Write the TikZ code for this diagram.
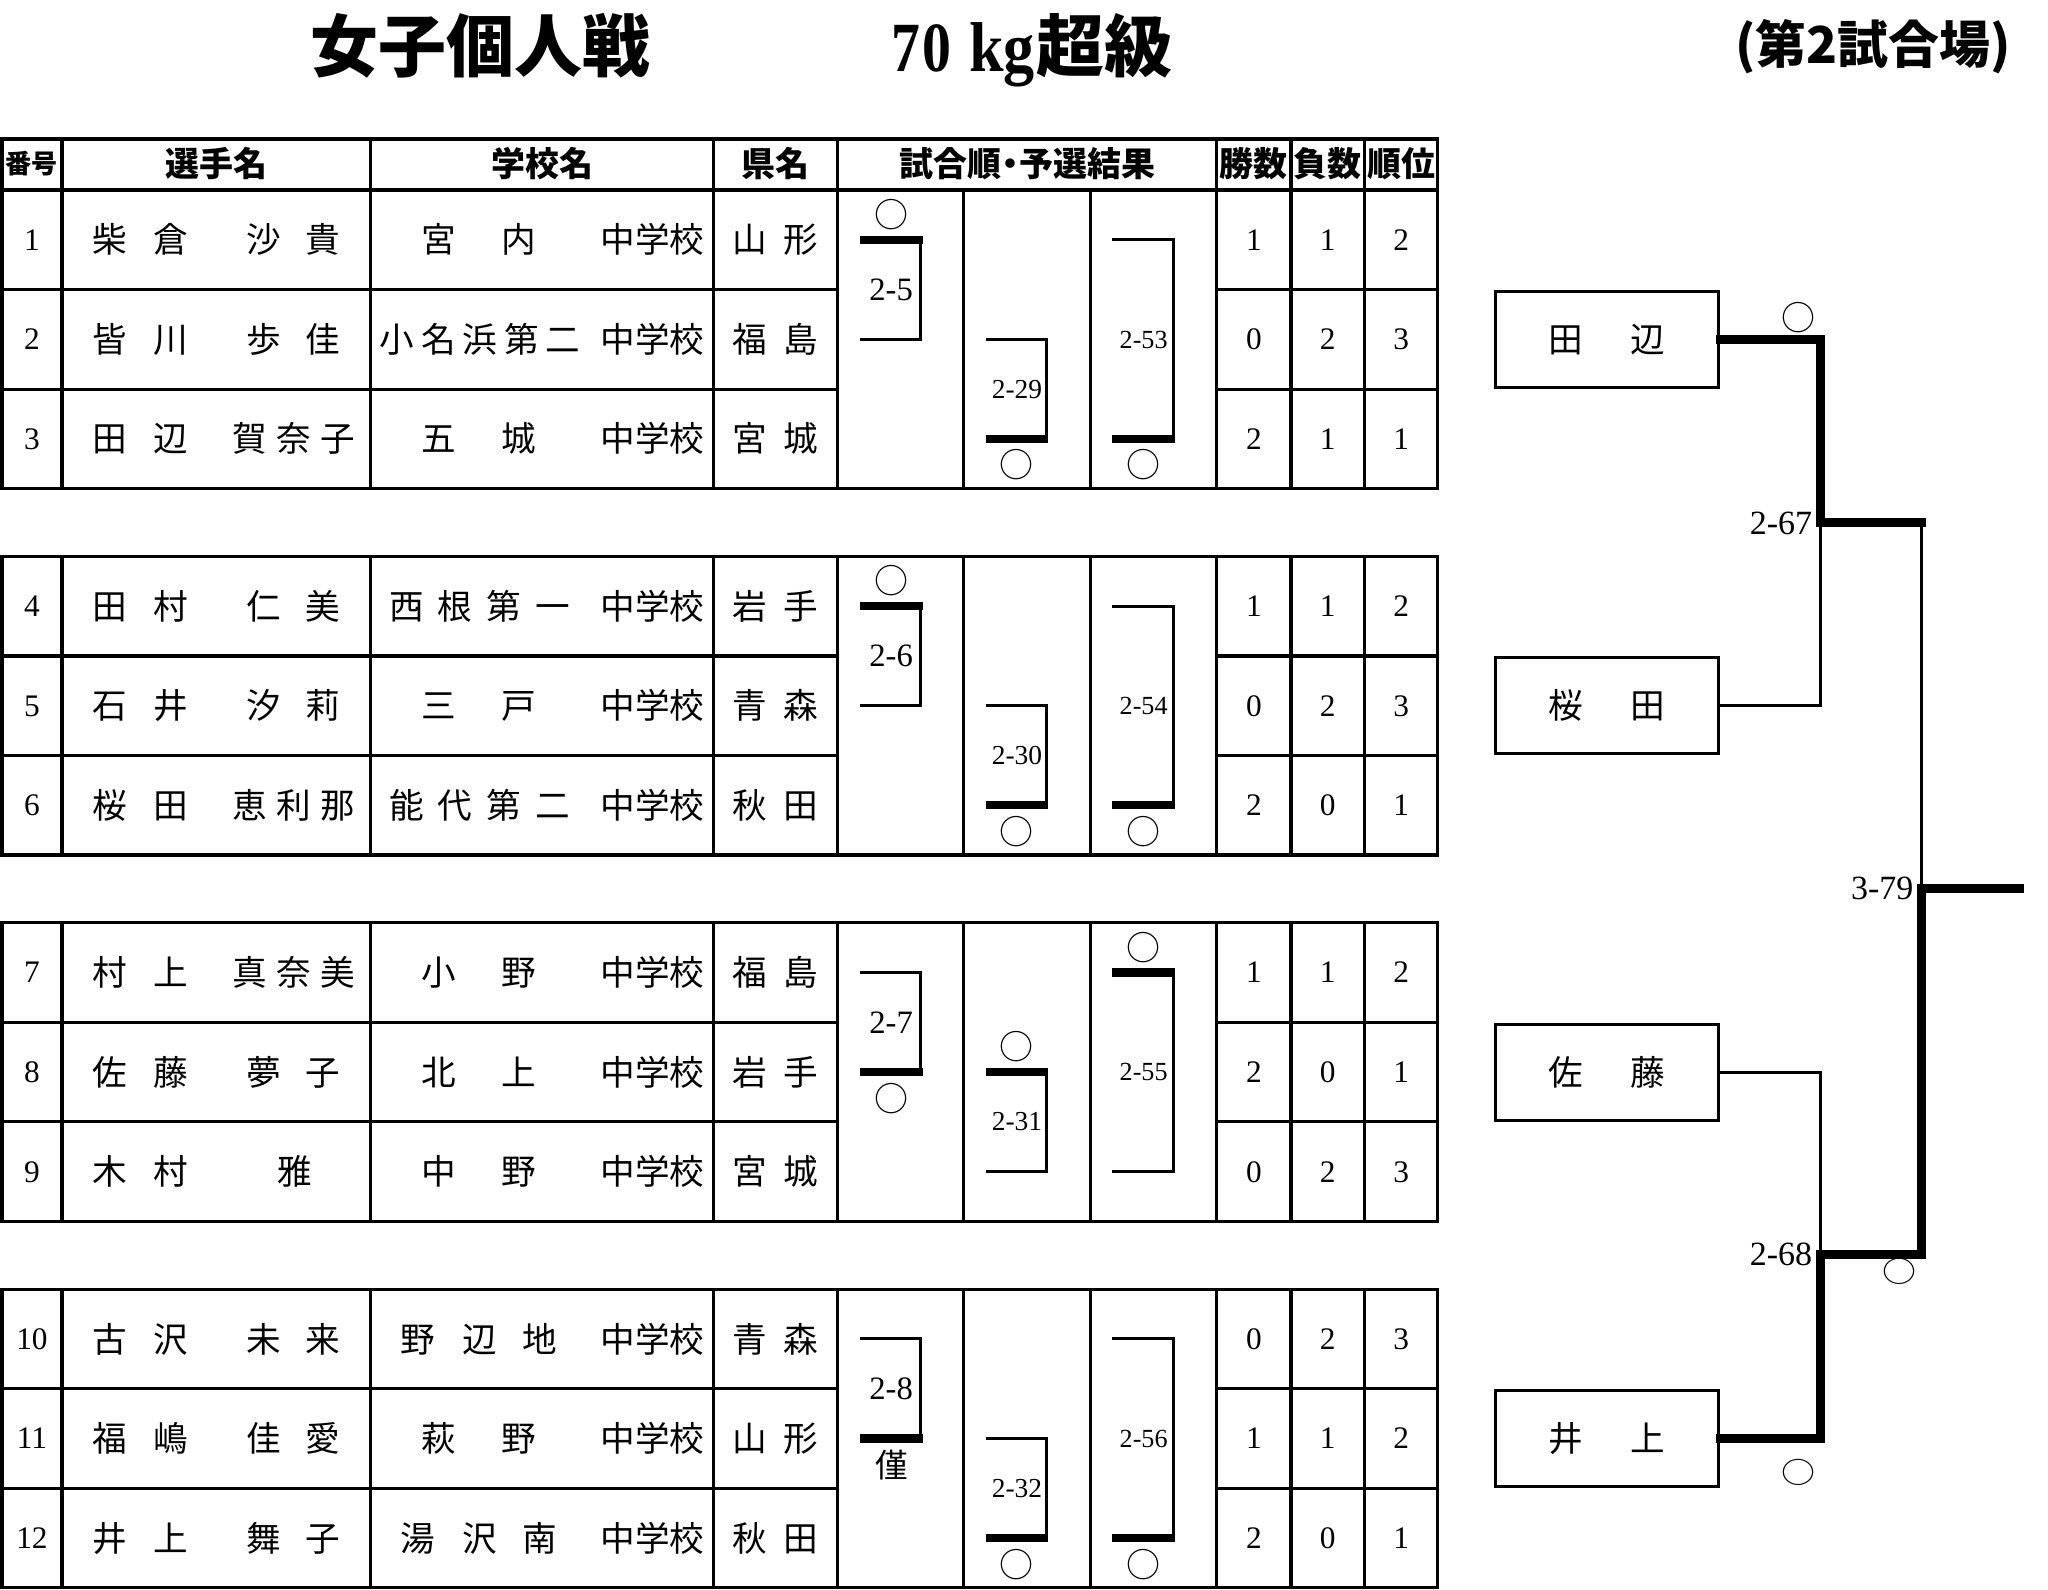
\documentclass[tikz,border=0pt]{standalone}
\usepackage{fontspec}
\usepackage{graphicx}
\newfontfamily\jp{Noto Sans CJK JP}
\newfontfamily\lser{Liberation Serif}
\newcommand\fsz[1]{\fontsize{#1}{#1}\selectfont}
\newcommand\chs[3]{\foreach \px/\pc [count=\ci] in {#3}{\node[cj] (#1-\ci) at (\px,#2) {\pc};}}
\newcommand\nums[5]{\node[dg] (no#1) at (24.5,#2) {#1};\node[dg] (win#1) at (960,#2) {#3};\node[dg] (lose#1) at (1016.5,#2) {#4};\node[dg] (rank#1) at (1072.7,#2) {#5};}
\newcommand\jhs[2]{\node[cj] (jhs#1) at (499.5,#2) {中学校};}
\newcommand\brk[7]{\draw[thinl] ({#2+17},#3) -- ({#2+63.5},#3) -- ({#2+63.5},#4) -- ({#2+17},#4);\draw[thickl] ({#2+17},#5) -- ({#2+65},#5);\node[#7] (#1) at ({#2+41},{(#3+#4)/2}) {#6};}
\newcommand\mk[3]{\node[mkst] (#1) at (#2,#3) {○};}
\tikzset{
  tl/.style={line width=2.4pt},
  thinl/.style={line width=2.3pt},
  thickl/.style={line width=6.5pt},
  rthick/.style={line width=7pt, line cap=rect},
  rthin/.style={line width=2.2pt},
  cj/.style={font=\jp\fsz{26.5}, inner sep=0pt, text height=22pt, text depth=1.9pt},
  cjs/.style={font=\jp\fsz{25}, inner sep=0pt, text height=20.8pt, text depth=1.7pt},
  dg/.style={font=\lser\fsz{24}, inner sep=0pt, text height=16pt, text depth=0pt},
  hd/.style={font=\jp\bfseries\fsz{26}, inner sep=0pt, text height=21.6pt, text depth=1.8pt},
  hds/.style={font=\jp\bfseries\fsz{20}, inner sep=0pt, text height=16.6pt, text depth=1.4pt},
  labA/.style={font=\lser\fsz{25}, inner sep=0pt, text height=16.7pt, text depth=0pt},
  labB/.style={font=\lser\fsz{21}, inner sep=0pt, text height=14pt, text depth=0pt},
  labC/.style={font=\lser\fsz{20}, inner sep=0pt, text height=13.4pt, text depth=0pt},
  labR/.style={font=\lser\fsz{26}, inner sep=0pt, text height=17.4pt, text depth=0pt},
  mkst/.style={font=\jp\fsz{26}, inner sep=0pt, text height=22.9pt, text depth=3.1pt},
  box/.style={draw, line width=2.4pt, minimum width=171pt, minimum height=73.5pt, inner sep=0pt, font=\jp\fsz{26.5}, text height=22pt, text depth=1.9pt}
}
\begin{document}
\begin{tikzpicture}[x=1pt,y=-1pt]
\useasboundingbox (0,0) rectangle (1568,1217);
% titles
\node[anchor=base, inner sep=0pt, font=\jp\bfseries\fsz{52}] (title) at (368,55) {女子個人戦};
\node[anchor=base west, inner sep=0pt] (wclass) at (682,55) {\lser\bfseries\fsz{54}\scalebox{0.82}[1]{7\kern2pt0}\hspace{14pt}\scalebox{0.88}[1]{kg}\hspace{1pt}\jp\bfseries\fsz{52}超級};
\node[anchor=base, inner sep=0pt, font=\jp\bfseries\fsz{39}] (venue) at (1434,48.8) {(第2試合場)};
% table grid
\foreach \g in {0,1,2,3}{
  \pgfmathsetmacro\T{145.5+280.5*\g}
  \pgfmathsetmacro\B{\T+228.6}
  \pgfmathsetmacro\Tt{\T-39.1*(\g==0)}
  \draw[tl] (1.5,\Tt) rectangle (1100.8,\B);
  \foreach \xv in {47.5,283.5,546.5,641.3,931.6,988.4,1044.6} {\draw[tl] (\xv,\Tt) -- (\xv,\B);}
  \foreach \xv in {737.6,834.6} {\draw[tl] (\xv,\T) -- (\xv,\B);}
  \foreach \dy in {76.2,152.4} {\draw[tl] (1.5,\T+\dy) -- (641.3,\T+\dy) (931.6,\T+\dy) -- (1100.8,\T+\dy);}
}
\draw[tl] (1.5,145.5) -- (1100.8,145.5);
% header
\node[hds] (h0) at (24.5,125.5) {番号};
\node[hd] (h1) at (165.5,125.5) {選手名};
\node[hd] (h2) at (415,125.5) {学校名};
\node[hd] (h3) at (594,125.5) {県名};
\node[hd] (h4) at (786.5,125.5) {試合順\kern-6pt・\kern-6pt予選結果};
\node[hd] (h5) at (960,125.5) {勝数};
\node[hd] (h6) at (1016.5,125.5) {負数};
\node[hd] (h7) at (1072.7,125.5) {順位};
% rows
\nums{1}{183.6}{1}{1}{2}\chs{nm1}{183.6}{84/柴,131/倉,202/沙,247.5/貴}\chs{sc1}{183.6}{336/宮,397.5/内}\jhs{1}{183.6}\chs{pf1}{183.6}{574/山,613/形}
\nums{2}{259.8}{0}{2}{3}\chs{nm2}{259.8}{84/皆,131/川,202/歩,247.5/佳}\chs{sc2}{259.8}{304/小,335.75/名,367.5/浜,399.25/第,431/二}\jhs{2}{259.8}\chs{pf2}{259.8}{574/福,613/島}
\nums{3}{336}{2}{1}{1}\chs{nm3}{336}{84/田,131/辺,191/賀,225/奈,259/子}\chs{sc3}{336}{336/五,397.5/城}\jhs{3}{336}\chs{pf3}{336}{574/宮,613/城}
\nums{4}{464.1}{1}{1}{2}\chs{nm4}{464.1}{84/田,131/村,202/仁,247.5/美}\chs{sc4}{464.1}{311.5/西,348.5/根,386/第,423/一}\jhs{4}{464.1}\chs{pf4}{464.1}{574/岩,613/手}
\nums{5}{540.3}{0}{2}{3}\chs{nm5}{540.3}{84/石,131/井,202/汐,247.5/莉}\chs{sc5}{540.3}{336/三,397.5/戸}\jhs{5}{540.3}\chs{pf5}{540.3}{574/青,613/森}
\nums{6}{616.5}{2}{0}{1}\chs{nm6}{616.5}{84/桜,131/田,191/恵,225/利,259/那}\chs{sc6}{616.5}{311.5/能,348.5/代,386/第,423/二}\jhs{6}{616.5}\chs{pf6}{616.5}{574/秋,613/田}
\nums{7}{744.6}{1}{1}{2}\chs{nm7}{744.6}{84/村,131/上,191/真,225/奈,259/美}\chs{sc7}{744.6}{336/小,397.5/野}\jhs{7}{744.6}\chs{pf7}{744.6}{574/福,613/島}
\nums{8}{820.8}{2}{0}{1}\chs{nm8}{820.8}{84/佐,131/藤,202/夢,247.5/子}\chs{sc8}{820.8}{336/北,397.5/上}\jhs{8}{820.8}\chs{pf8}{820.8}{574/岩,613/手}
\nums{9}{897}{0}{2}{3}\chs{nm9}{897}{84/木,131/村,226/雅}\chs{sc9}{897}{336/中,397.5/野}\jhs{9}{897}\chs{pf9}{897}{574/宮,613/城}
\nums{10}{1025.1}{0}{2}{3}\chs{nm10}{1025.1}{84/古,131/沢,202/未,247.5/来}\chs{sc10}{1025.1}{320/野,367/辺,413.5/地}\jhs{10}{1025.1}\chs{pf10}{1025.1}{574/青,613/森}
\nums{11}{1101.3}{1}{1}{2}\chs{nm11}{1101.3}{84/福,131/嶋,202/佳,247.5/愛}\chs{sc11}{1101.3}{336/萩,397.5/野}\jhs{11}{1101.3}\chs{pf11}{1101.3}{574/山,613/形}
\nums{12}{1177.5}{2}{0}{1}\chs{nm12}{1177.5}{84/井,131/上,202/舞,247.5/子}\chs{sc12}{1177.5}{320/湯,367/沢,413.5/南}\jhs{12}{1177.5}\chs{pf12}{1177.5}{574/秋,613/田}
% match brackets
\brk{g5}{641.3}{183.6}{259.8}{183.6}{2-5}{labA}\mk{o5}{682.3}{164.1}
\brk{g29}{737.6}{259.8}{336}{336}{2-29}{labB}\mk{o29}{778.6}{356}
\brk{g53}{834.6}{183.6}{336}{336}{2-53}{labC}\mk{o53}{875.6}{356}
\brk{g6}{641.3}{464.1}{540.3}{464.1}{2-6}{labA}\mk{o6}{682.3}{444.6}
\brk{g30}{737.6}{540.3}{616.5}{616.5}{2-30}{labB}\mk{o30}{778.6}{636.5}
\brk{g54}{834.6}{464.1}{616.5}{616.5}{2-54}{labC}\mk{o54}{875.6}{636.5}
\brk{g7}{641.3}{744.6}{820.8}{820.8}{2-7}{labA}\mk{o7}{682.3}{840.8}
\brk{g31}{737.6}{820.8}{897}{820.8}{2-31}{labB}\mk{o31}{778.6}{801.3}
\brk{g55}{834.6}{744.6}{897}{744.6}{2-55}{labC}\mk{o55}{875.6}{725.1}
\brk{g8}{641.3}{1025.1}{1101.3}{1101.3}{2-8}{labA}\node[cjs] (kin) at (683,1121.7) {僅};
\brk{g32}{737.6}{1101.3}{1177.5}{1177.5}{2-32}{labB}\mk{o32}{778.6}{1197.5}
\brk{g56}{834.6}{1025.1}{1177.5}{1177.5}{2-56}{labC}\mk{o56}{875.6}{1197.5}
% tournament
\node[box] (b1) at (1230.4,259.8) {田\hspace{36pt}辺};
\node[box] (b2) at (1230.4,540.3) {桜\hspace{36pt}田};
\node[box] (b3) at (1230.4,820.8) {佐\hspace{36pt}藤};
\node[box] (b4) at (1230.4,1101.3) {井\hspace{36pt}上};
\coordinate (m67) at (1394,400.3);
\coordinate (m67r) at (1471,400.3);
\coordinate (m68) at (1394,960.5);
\coordinate (m68r) at (1471,960.5);
\coordinate (m79) at (1471,680);
\coordinate (fin) at (1546,680);
\draw[rthick] (b1.east) -| (m67);
\draw[rthin] (b2.east) -| (m67);
\draw[rthick] (m67) -- (m67r);
\draw[rthin] (m67r) -- (m79);
\draw[rthick] (m79) -- (fin);
\draw[rthick] (m79) -- (m68r);
\draw[rthick] (m68) -- (m68r);
\draw[rthin] (b3.east) -| (m68);
\draw[rthick] (b4.east) -| (m68);
\node[labR] (l67) at (1363.5,400.5) {2-67};
\node[labR] (l79) at (1441,680) {3-79};
\node[labR] (l68) at (1363.5,960.5) {2-68};
\mk{o67}{1377}{243}
\node[mkst] (o79) at (1454,972.3) {\scalebox{1}[0.86]{○}};
\node[mkst] (o68) at (1377,1126) {\scalebox{1}[0.86]{○}};
\end{tikzpicture}
\end{document}
